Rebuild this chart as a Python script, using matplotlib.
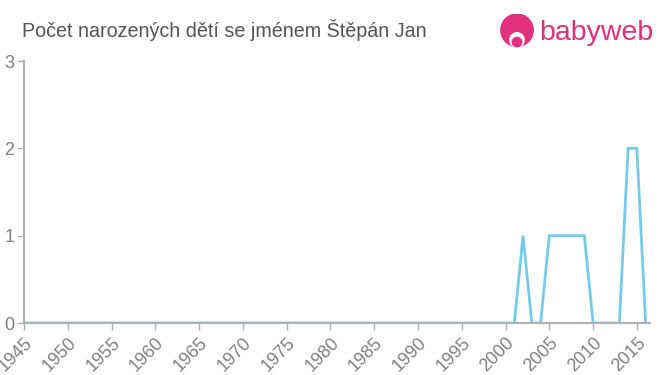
import matplotlib
matplotlib.use("Agg")
import matplotlib.pyplot as plt
from matplotlib.patches import Circle

plt.rcParams["font.family"] = ["Liberation Sans", "DejaVu Sans"]

# ----------------------------
# Data
# ----------------------------
years = list(range(1945, 2017))
counts = [0] * len(years)
nonzero = {2002: 1, 2005: 1, 2006: 1, 2007: 1, 2008: 1, 2009: 1, 2014: 2, 2015: 2}
for y, c in nonzero.items():
    counts[years.index(y)] = c

x_ticks = list(range(1945, 2020, 5))
y_ticks = [0, 1, 2, 3]
title = "Počet narozených dětí se jménem Štěpán Jan"

LINE = "#76cbea"
AXIS = "#b0b0b0"
TEXT = "#808080"
PINK = "#e0307e"

# ----------------------------
# Figure
# ----------------------------
fig = plt.figure(figsize=(6.6, 3.75), dpi=100)
ax = fig.add_axes([24 / 660, 52 / 375, 626 / 660, 262 / 375])

ax.plot(years, counts, color=LINE, lw=2, solid_joinstyle="miter")

ax.set_xlim(1945, 2016.5)
ax.set_ylim(0, 3)
ax.set_xticks(x_ticks)
ax.set_xticklabels([str(t) for t in x_ticks], rotation=45, ha="right",
                   rotation_mode="anchor", fontsize=13, color=TEXT)
ax.set_yticks(y_ticks)
ax.set_yticklabels([str(t) for t in y_ticks], fontsize=13, color=TEXT)
ax.tick_params(axis="x", length=5, color=AXIS, width=1, pad=3)
ax.tick_params(axis="y", length=5, color=AXIS, width=1, pad=2)

for side in ("top", "right"):
    ax.spines[side].set_visible(False)
for side in ("left", "bottom"):
    ax.spines[side].set_color(AXIS)
    ax.spines[side].set_linewidth(1.5)

fig.text(22 / 660, 1 - 30 / 375, title, fontsize=14.2, color="#555555",
         va="center", ha="left")

# logo
logo = fig.add_axes([499 / 660, 1 - 50 / 375, 36 / 660, 36 / 375])
logo.set_xlim(0, 1)
logo.set_ylim(0, 1)
logo.set_aspect("equal")
logo.axis("off")
logo.add_patch(Circle((0.5, 0.55), 0.45, color=PINK))
logo.add_patch(Circle((0.5, 0.28), 0.2, color="white"))
logo.add_patch(Circle((0.5, 0.22), 0.13, color=PINK))
fig.text(539 / 660, 1 - 33 / 375, "babyweb", fontsize=20.5, color=PINK,
         va="center", ha="left")

fig.savefig("out.png", dpi=100)
